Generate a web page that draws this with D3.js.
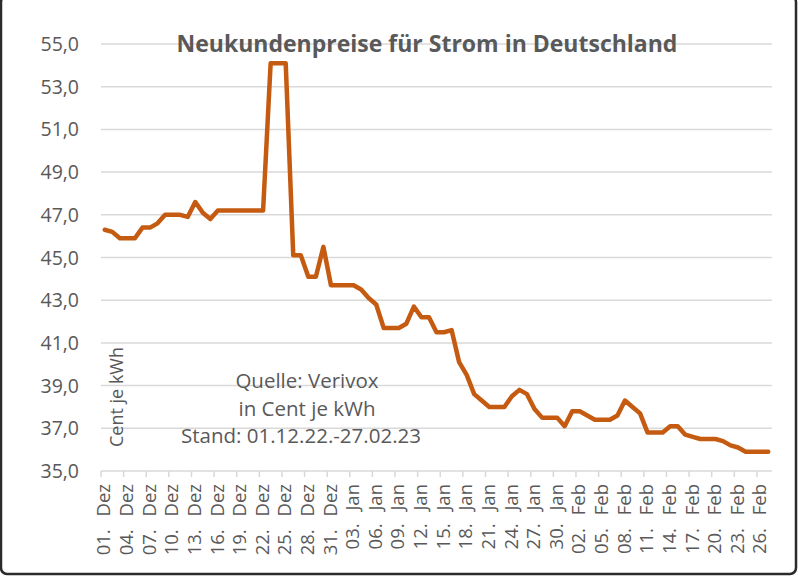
<!DOCTYPE html>
<html>
<head>
<meta charset="utf-8">
<script src="https://cdn.jsdelivr.net/npm/d3@7"></script>
<style>
  html, body { margin: 0; padding: 0; background: #fff; }
  svg { display: block; }
  text { font-family: "Open Sans", "DejaVu Sans", sans-serif; fill: #595959; }
</style>
</head>
<body>
<svg id="chart" width="798" height="577"></svg>
<script>
// ---- Data ----
const title = "Neukundenpreise für Strom in Deutschland";
const yAxisTitle = "Cent je kWh";
const noteLines = ["Quelle: Verivox", "in Cent je kWh", "Stand:  01.12.22.-27.02.23"];
const months = ["Dez", "Jan", "Feb"];
const monthDays = [31, 31, 27];
// daily prices, 01.12.22 - 27.02.23 (Cent je kWh)
const prices = [
  46.3, 46.2, 45.9, 45.9, 45.9, 46.4, 46.4, 46.6, 47.0, 47.0,
  47.0, 46.9, 47.6, 47.1, 46.8, 47.2, 47.2, 47.2, 47.2, 47.2,
  47.2, 47.2, 54.1, 54.1, 54.1, 45.1, 45.1, 44.1, 44.1, 45.5,
  43.7, 43.7, 43.7, 43.7, 43.5, 43.1, 42.8, 41.7, 41.7, 41.7,
  41.9, 42.7, 42.2, 42.2, 41.5, 41.5, 41.6, 40.1, 39.5, 38.6,
  38.3, 38.0, 38.0, 38.0, 38.5, 38.8, 38.6, 37.9, 37.5, 37.5,
  37.5, 37.1, 37.8, 37.8, 37.6, 37.4, 37.4, 37.4, 37.6, 38.3,
  38.0, 37.7, 36.8, 36.8, 36.8, 37.1, 37.1, 36.7, 36.6, 36.5,
  36.5, 36.5, 36.4, 36.2, 36.1, 35.9, 35.9, 35.9, 35.9
];
const yTicks = [35, 37, 39, 41, 43, 45, 47, 49, 51, 53, 55];
const labelEvery = 3;

// category labels "01. Dez" ...
const categories = [];
months.forEach((m, mi) => {
  for (let d = 1; d <= monthDays[mi]; d++) {
    categories.push(String(d).padStart(2, "0") + ". " + m);
  }
});
const data = categories.map((c, i) => ({ cat: c, value: prices[i] }));

// ---- Layout ----
const svg = d3.select("#chart");
const plot = { left: 101, right: 772, top: 44, bottom: 471 };

const x = d3.scaleBand().domain(categories).range([plot.left, plot.right]).padding(0);
const y = d3.scaleLinear().domain([35, 55]).range([plot.bottom, plot.top]);
const locale = d3.formatLocale({ decimal: ",", thousands: ".", grouping: [3], currency: ["", "€"] });
const fmt = locale.format(".1f");

// frame
svg.append("rect")
  .attr("x", 1).attr("y", -4).attr("width", 795).attr("height", 578)
  .attr("rx", 6)
  .attr("fill", "none").attr("stroke", "#2b2b2b").attr("stroke-width", 2.5);

// gridlines
svg.append("g").selectAll("line").data(yTicks).join("line")
  .attr("x1", plot.left).attr("x2", plot.right)
  .attr("y1", d => y(d)).attr("y2", d => y(d))
  .attr("stroke", "#d9d9d9").attr("stroke-width", 1.5);

// y labels
svg.append("g").selectAll("text").data(yTicks).join("text")
  .attr("x", 79).attr("y", d => y(d))
  .attr("dy", "0.36em")
  .attr("text-anchor", "end")
  .style("font-size", "19.5px")
  .text(d => fmt(d));

// x tick marks at group boundaries
const tickCats = categories.filter((c, i) => i % labelEvery === 0);
svg.append("g").selectAll("line").data(tickCats).join("line")
  .attr("x1", d => x(d)).attr("x2", d => x(d))
  .attr("y1", plot.bottom).attr("y2", plot.bottom + 6)
  .attr("stroke", "#d9d9d9").attr("stroke-width", 1.5);

// x labels via axis
const xAxis = d3.axisBottom(x).tickValues(tickCats).tickSize(0).tickPadding(0);
const gx = svg.append("g").attr("transform", `translate(0,${plot.bottom})`).call(xAxis);
gx.select(".domain").remove();
gx.selectAll("text")
  .attr("transform", "translate(-1,13) rotate(-90)")
  .attr("x", 0).attr("y", 0)
  .attr("dy", "0.36em")
  .attr("text-anchor", "end")
  .style("font-size", "18.5px")
  .style("word-spacing", "8px")
  .style("font-family", "'Open Sans', sans-serif")
  .attr("fill", "#595959");

// line
const line = d3.line()
  .x(d => x(d.cat) + x.bandwidth() / 2)
  .y(d => y(d.value));
svg.append("path").datum(data)
  .attr("d", line)
  .attr("fill", "none")
  .attr("stroke", "#c55a11")
  .attr("stroke-width", 4.5)
  .attr("stroke-linejoin", "round")
  .attr("stroke-linecap", "round");

// title
svg.append("text")
  .attr("x", 427).attr("y", 52)
  .attr("text-anchor", "middle")
  .style("font-size", "23px").style("font-weight", "bold")
  .text(title);

// y axis title
svg.append("text")
  .attr("transform", "translate(117,397) rotate(-90)")
  .attr("text-anchor", "middle")
  .attr("dy", "0.36em")
  .style("font-size", "18px")
  .text(yAxisTitle);

// note
svg.append("g").selectAll("text").data(noteLines).join("text")
  .attr("x", (d, i) => i === 2 ? 301 : 307)
  .attr("y", (d, i) => 388 + i * 27.5)
  .attr("text-anchor", "middle")
  .style("font-size", "20.5px")
  .text(d => d);
</script>
</body>
</html>
